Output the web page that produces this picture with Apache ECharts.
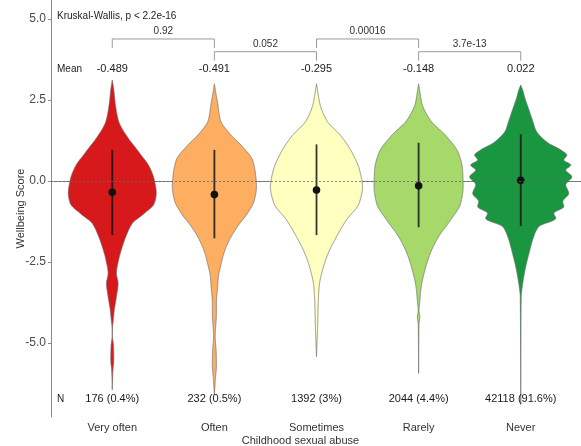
<!DOCTYPE html>
<html><head><meta charset="utf-8">
<script src="https://cdn.jsdelivr.net/npm/echarts@6/dist/echarts.min.js"></script>
<style>html,body{margin:0;padding:0;background:#fff}#c{width:581px;height:446px}</style>
</head><body><div id="c"></div>
<script>
const categories = ['Very often', 'Often', 'Sometimes', 'Rarely', 'Never'];
const colors = ['#d7191c', '#fdae61', '#ffffbf', '#a6d96a', '#1a9641'];
const yTicks = [-5, -2.5, 0, 2.5, 5];
const meanLabels = ['-0.489', '-0.491', '-0.295', '-0.148', '0.022'];
const nLabels = ['176 (0.4%)', '232 (0.5%)', '1392 (3%)', '2044 (4.4%)', '42118 (91.6%)'];
const pointValues = [-0.35, -0.42, -0.28, -0.15, 0.02];
const sdLow = [-1.67, -1.77, -1.67, -1.43, -1.39];
const sdHigh = [0.96, 0.96, 1.13, 1.18, 1.44];
const comparisons = [[0, 1, '0.92'], [1, 2, '0.052'], [2, 3, '0.00016'], [3, 4, '3.7e-13']];
const testLabel = 'Kruskal-Wallis, p < 2.2e-16';

// violin density profiles: [score, half width (fraction of category spacing)]
const densVeryOften = [[3.12,0],[2.81,0.015],[2.40,0.029],[1.88,0.059],[1.25,0.172],[1.06,0.22],[0.85,0.27],[0.44,0.363],[0.03,0.412],[-0.38,0.431],[-0.69,0.412],[-1.00,0.314],[-1.31,0.196],[-1.61,0.147],[-2.03,0.098],[-2.44,0.062],[-2.85,0.041],[-3.16,0.057],[-3.57,0.041],[-3.98,0.020],[-4.29,0.010],[-4.5,0.003],[-4.75,0.001],[-5.1,0.012],[-5.5,0.015],[-5.9,0.005],[-6.45,0]];
const densOften = [[3.0,0],[2.7,0.015],[2.4,0.032],[1.88,0.059],[1.47,0.147],[1.06,0.275],[0.65,0.373],[0.24,0.402],[-0.18,0.412],[-0.59,0.392],[-1.0,0.324],[-1.41,0.225],[-1.82,0.147],[-2.23,0.093],[-2.65,0.059],[-2.95,0.039],[-3.26,0.032],[-3.77,0.02],[-4.08,0.02],[-4.8,0.008],[-5.3,0.018],[-5.7,0.02],[-6.1,0.01],[-6.6,0]];
const densSometimes = [[3.0,0],[2.7,0.015],[2.4,0.032],[1.88,0.098],[1.37,0.245],[0.85,0.353],[0.34,0.422],[-0.18,0.451],[-0.69,0.417],[-1.2,0.294],[-1.72,0.196],[-2.23,0.115],[-2.75,0.059],[-3.26,0.026],[-3.77,0.017],[-4.6,0.01],[-5.42,0]];
const densRarely = [[3.0,0],[2.7,0.015],[2.4,0.032],[1.88,0.115],[1.37,0.275],[0.85,0.392],[0.34,0.431],[-0.18,0.436],[-0.69,0.412],[-1.2,0.314],[-1.72,0.196],[-2.23,0.115],[-2.75,0.062],[-3.26,0.026],[-3.77,0.01],[-4.0,0.004],[-4.2,0.012],[-4.4,0.004],[-5.0,0.002],[-5.94,0]];
const densNever = [[2.96,0],[2.8,0.02],[2.6,0.037],[2.19,0.081],[1.78,0.125],[1.57,0.147],[1.37,0.196],[1.16,0.275],[0.96,0.392],[0.80,0.451],[0.65,0.422],[0.49,0.49],[0.34,0.441],[0.13,0.5],[-0.12,0.441],[-0.38,0.47],[-0.64,0.412],[-0.79,0.422],[-1.0,0.324],[-1.15,0.343],[-1.41,0.176],[-1.72,0.127],[-2.23,0.081],[-2.75,0.042],[-3.26,0.015],[-3.57,0.005],[-5.0,0.002],[-6.9,0]];
const densities = [densVeryOften, densOften, densSometimes, densRarely, densNever];

const FONT = '"Liberation Sans", Arial, sans-serif';

// monotone cubic (PCHIP) curve through the read outline points, used only to draw a smooth outline
function pchip(xs, ys) {
  const n = xs.length, h = [], d = [], m = new Array(n);
  for (let i = 0; i < n - 1; i++) { h[i] = xs[i + 1] - xs[i]; d[i] = (ys[i + 1] - ys[i]) / h[i]; }
  m[0] = d[0]; m[n - 1] = d[n - 2];
  for (let i = 1; i < n - 1; i++) {
    if (d[i - 1] * d[i] <= 0) m[i] = 0;
    else { const w1 = 2 * h[i] + h[i - 1], w2 = h[i] + 2 * h[i - 1]; m[i] = (w1 + w2) / (w1 / d[i - 1] + w2 / d[i]); }
  }
  return x => {
    let i = 0;
    while (i < n - 2 && x > xs[i + 1]) i++;
    const t = (x - xs[i]) / h[i], t2 = t * t, t3 = t2 * t;
    const v = (2 * t3 - 3 * t2 + 1) * ys[i] + (t3 - 2 * t2 + t) * h[i] * m[i] + (-2 * t3 + 3 * t2) * ys[i + 1] + (t3 - t2) * h[i] * m[i + 1];
    return Math.max(0, v);
  };
}
const outlineFns = densities.map(d => {
  const asc = d.slice().reverse();
  return {fn: pchip(asc.map(p => p[0]), asc.map(p => p[1])), lo: asc[0][0], hi: asc[asc.length - 1][0]};
});

const chart = echarts.init(document.getElementById('c'), null, {renderer: 'canvas'});

function textEl(pt, text, size, align, color) {
  return {type: 'text', x: pt[0], y: pt[1], style: {text: text, fontSize: size, fontFamily: FONT, fill: color || '#1a1a1a', align: align || 'center', verticalAlign: 'middle'}};
}

const option = {
  animation: false,
  backgroundColor: '#fff',
  grid: {left: 51, right: -1, top: 0, bottom: 29, containLabel: false, outerBoundsMode: 'none'},
  xAxis: {
    type: 'value', min: 0.4, max: 5.6,
    name: 'Childhood sexual abuse', nameLocation: 'middle', nameGap: 18, nameMoveOverlap: false,
    nameTextStyle: {fontSize: 11, color: '#333', fontFamily: FONT, padding: [0, 32, 0, 0]},
    axisLine: {show: true, lineStyle: {color: '#8a8a8a', width: 1}},
    axisTick: {show: true, length: 3, customValues: [1, 2, 3, 4, 5], lineStyle: {color: '#8a8a8a'}},
    axisLabel: {customValues: [1, 2, 3, 4, 5], margin: 5, fontSize: 11, color: '#333', fontFamily: FONT,
      formatter: v => categories[Math.round(v) - 1]},
    splitLine: {show: false}
  },
  yAxis: {
    type: 'value', min: -7.284, max: 5.586,
    name: 'Wellbeing Score', nameLocation: 'middle', nameGap: 25, nameMoveOverlap: false,
    nameTextStyle: {fontSize: 11, color: '#333', fontFamily: FONT},
    axisLine: {show: true, lineStyle: {color: '#8a8a8a', width: 1}},
    axisTick: {show: true, length: 3, customValues: yTicks, lineStyle: {color: '#8a8a8a'}},
    axisLabel: {customValues: yTicks, margin: 5, fontSize: 12, color: '#4a4a4a', fontFamily: FONT,
      formatter: v => v.toFixed(1)},
    splitLine: {show: false}
  },
  series: [
    {
      type: 'custom', name: 'violins', z: 2, clip: false,
      data: categories.map((c, i) => [i]),
      renderItem: (params, api) => {
        const i = api.value(0);
        const o = outlineFns[i];
        const right = [], left = [];
        const step = 0.015;
        for (let v = o.hi; v > o.lo - step / 2; v -= step) {
          const vv = Math.max(v, o.lo);
          const w = o.fn(vv);
          right.push(api.coord([i + 1 + w, vv]));
          left.push(api.coord([i + 1 - w, vv]));
        }
        const pts = right.concat(left.reverse());
        return {type: 'polygon', shape: {points: pts},
          style: {fill: colors[i], stroke: '#6a6a6a', lineWidth: 0.7}};
      }
    },
    {
      type: 'custom', name: 'summary', z: 4, clip: false,
      data: categories.map((c, i) => [i, pointValues[i], sdLow[i], sdHigh[i]]),
      renderItem: (params, api) => {
        const i = api.value(0);
        const a = api.coord([i + 1, api.value(2)]);
        const b = api.coord([i + 1, api.value(3)]);
        const p = api.coord([i + 1, api.value(1)]);
        return {type: 'group', children: [
          {type: 'line', shape: {x1: a[0], y1: a[1], x2: b[0], y2: b[1]}, style: {stroke: 'rgba(20,20,20,0.85)', lineWidth: 1.8}},
          {type: 'circle', shape: {cx: p[0], cy: p[1], r: 3.8}, style: {fill: '#111'}}
        ]};
      },
      markLine: {
        silent: true, symbol: 'none', label: {show: false},
        lineStyle: {color: '#666', type: [2, 2], width: 0.8},
        data: [{yAxis: 0}]
      }
    },
    {
      type: 'custom', name: 'brackets', z: 5, clip: false,
      data: comparisons.map((c, k) => [c[0], c[1], k]),
      renderItem: (params, api) => {
        const k = api.value(2);
        const a = api.value(0) + 1, b = api.value(1) + 1;
        const top = k % 2 === 0 ? 4.383 : 3.99;
        const leg = 0.275;
        const p1 = api.coord([a, top - leg]), p2 = api.coord([a, top]);
        const p3 = api.coord([b, top]), p4 = api.coord([b, top - leg]);
        const tp = api.coord([(a + b) / 2, top + 0.24]);
        return {type: 'group', children: [
          {type: 'polyline', shape: {points: [p1, p2, p3, p4]}, style: {stroke: '#9a9a9a', lineWidth: 1, fill: null}},
          textEl(tp, comparisons[k][2], 10, 'center', '#333')
        ]};
      }
    },
    {
      type: 'custom', name: 'labels', z: 6, clip: false,
      data: categories.map((c, i) => [i]),
      renderItem: (params, api) => {
        const i = api.value(0);
        const children = [
          textEl(api.coord([i + 1, 3.457]), meanLabels[i], 11),
          textEl(api.coord([i + 1, -6.73]), nLabels[i], 11)
        ];
        if (i === 0) {
          children.push(textEl(api.coord([0.459, 3.457]), 'Mean', 10, 'left', '#222'));
          children.push(textEl(api.coord([0.459, -6.73]), 'N', 10, 'left', '#222'));
          children.push(textEl(api.coord([0.459, 5.09]), testLabel, 10, 'left', '#222'));
        }
        return {type: 'group', children: children};
      }
    }
  ]
};
chart.setOption(option);
</script>
</body></html>
